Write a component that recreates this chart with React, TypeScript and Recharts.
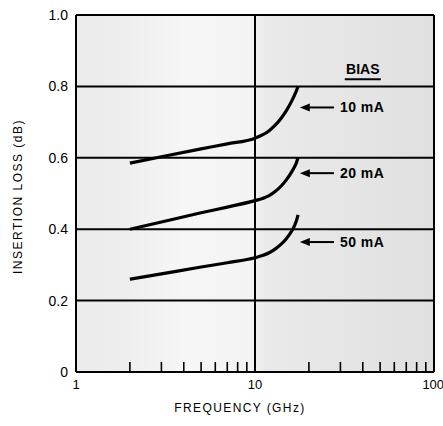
import React from "react";
import {
  CartesianGrid,
  Line,
  LineChart,
  ReferenceDot,
  ReferenceLine,
  XAxis,
  YAxis,
} from "recharts";

// frequency points (GHz)
const freqGHz = [2, 3, 5, 7, 10, 11, 12, 13, 14, 15, 16, 17, 17.4];
const loss10mA = [0.585, 0.603, 0.625, 0.639, 0.655, 0.664, 0.676, 0.692, 0.711, 0.733, 0.758, 0.787, 0.8];
const loss20mA = [0.4, 0.42, 0.446, 0.462, 0.48, 0.486, 0.494, 0.506, 0.521, 0.539, 0.56, 0.585, 0.6];
const loss50mA = [0.26, 0.275, 0.294, 0.306, 0.32, 0.326, 0.334, 0.345, 0.358, 0.374, 0.394, 0.422, 0.44];

const xTicks = [1, 10, 100];
const yTicks = [0, 0.2, 0.4, 0.6, 0.8, 1.0];
const minorTicks = [2, 3, 4, 5, 6, 7, 8, 9, 20, 30, 40, 50, 60, 70, 80, 90];

const biasLabels = ["10 mA", "20 mA", "50 mA"];
const arrowLevels = [0.741, 0.557, 0.364];

const data = freqGHz.map((f, i) => ({
  f,
  b10: loss10mA[i],
  b20: loss20mA[i],
  b50: loss50mA[i],
}));

const font = "'Liberation Sans', Arial, Helvetica, sans-serif";

const Arrow = (props: any) => {
  const { x1, y1, x2, y2 } = props;
  return (
    <g>
      <line x1={x1} y1={y1} x2={x2 + 6} y2={y2} stroke="#000" strokeWidth={2} />
      <polygon points={`${x2},${y2} ${x2 + 10},${y2 - 4} ${x2 + 10},${y2 + 4}`} fill="#000" />
    </g>
  );
};

const App = () => {
  return (
    <div style={{ position: "absolute", left: 0, top: 0, background: "#fff" }}>
      <LineChart
        width={443}
        height={426}
        data={data}
        margin={{ top: 15, right: 9, left: 0, bottom: 0 }}
        style={{ fontFamily: font }}
      >
        <defs>
          <linearGradient id="paper" x1="0" y1="0" x2="1" y2="0">
            <stop offset="0" stopColor="#ebebeb" />
            <stop offset="0.14" stopColor="#eeeeee" />
            <stop offset="0.3" stopColor="#f6f6f6" />
            <stop offset="0.49" stopColor="#f3f3f3" />
            <stop offset="0.53" stopColor="#eaeaea" />
            <stop offset="1" stopColor="#e0e0e0" />
          </linearGradient>
        </defs>
        <CartesianGrid stroke="#000" strokeWidth={2} fill="url(#paper)" fillOpacity={1} />
        <XAxis
          dataKey="f"
          type="number"
          scale="log"
          domain={[1, 100]}
          ticks={xTicks}
          allowDataOverflow
          height={54}
          tickSize={0}
          tickMargin={8}
          axisLine={{ stroke: "#000", strokeWidth: 2 }}
          tick={{ fill: "#000", fontSize: 13 }}
          label={{
            content: (p: any) => (
              <text
                x={p.viewBox.x + p.viewBox.width / 2 - 15}
                y={408}
                textAnchor="middle"
                dominantBaseline="central"
                fontSize={12}
                letterSpacing={1.4}
                fill="#000"
              >
                FREQUENCY (GHz)
              </text>
            ),
          }}
        />
        <YAxis
          type="number"
          domain={[0, 1]}
          ticks={yTicks}
          width={76}
          tickSize={0}
          tickMargin={8}
          axisLine={{ stroke: "#000", strokeWidth: 2 }}
          tick={{ fill: "#000", fontSize: 14 }}
          tickFormatter={(v: number) => (v === 0 ? "0" : v.toFixed(1))}
          label={{
            content: (p: any) => (
              <text
                x={18}
                y={p.viewBox.y + p.viewBox.height / 2 + 3}
                transform={`rotate(-90, 18, ${p.viewBox.y + p.viewBox.height / 2 + 3})`}
                textAnchor="middle"
                dominantBaseline="central"
                fontSize={12}
                letterSpacing={1.5}
                fill="#000"
              >
                INSERTION LOSS (dB)
              </text>
            ),
          }}
        />
        {minorTicks.map((t) => (
          <ReferenceLine
            key={t}
            segment={[
              { x: t, y: 0 },
              { x: t, y: 0.028 },
            ]}
            stroke="#000"
            strokeWidth={1.6}
          />
        ))}
        <Line dataKey="b10" type="monotone" stroke="#000" strokeWidth={3.2} dot={false} isAnimationActive={false} />
        <Line dataKey="b20" type="monotone" stroke="#000" strokeWidth={3.2} dot={false} isAnimationActive={false} />
        <Line dataKey="b50" type="monotone" stroke="#000" strokeWidth={3.2} dot={false} isAnimationActive={false} />
        {arrowLevels.map((lv, i) => (
          <ReferenceLine
            key={"a" + i}
            segment={[
              { x: 27.6, y: lv },
              { x: 17.8, y: lv },
            ]}
            shape={Arrow}
          />
        ))}
        {arrowLevels.map((lv, i) => (
          <ReferenceDot
            key={"t" + i}
            x={29.8}
            y={lv}
            r={0}
            shape={(p: any) => (
              <text
                x={p.cx}
                y={p.cy}
                dominantBaseline="central"
                fontSize={14}
                fontWeight="bold"
                letterSpacing={0.5}
                fill="#000"
              >
                {biasLabels[i]}
              </text>
            )}
          />
        ))}
        <ReferenceDot
          x={40}
          y={0.848}
          r={0}
          shape={(p: any) => (
            <g>
              <text
                x={p.cx}
                y={p.cy}
                textAnchor="middle"
                dominantBaseline="central"
                fontSize={14}
                fontWeight="bold"
                fill="#000"
              >
                BIAS
              </text>
              <line x1={p.cx - 18} x2={p.cx + 18} y1={p.cy + 10} y2={p.cy + 10} stroke="#000" strokeWidth={2} />
            </g>
          )}
        />
      </LineChart>
    </div>
  );
};

export default App;
